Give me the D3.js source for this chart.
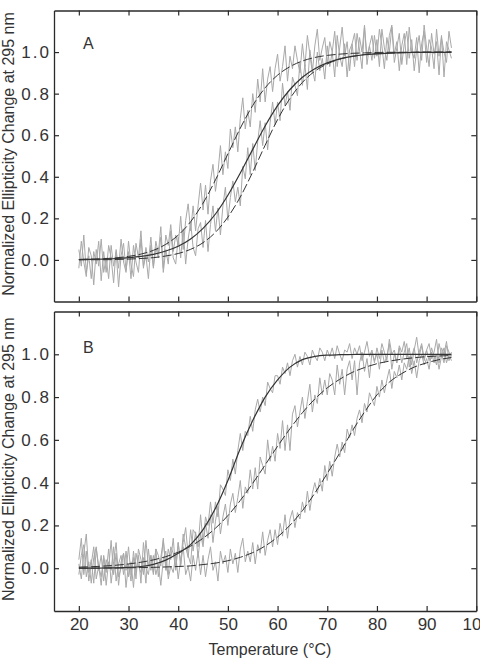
<!DOCTYPE html>
<html><head><meta charset="utf-8">
<script src="https://cdn.jsdelivr.net/npm/d3@7"></script>
<style>
body{margin:0;background:#fff}
text{font-family:"Liberation Sans",Arial,Helvetica,sans-serif;fill:#333}
</style>
</head><body><svg id="c" width="480" height="659"></svg>
<script>
// ---------- data ----------
const panelNames = ["A", "B"];
const xTicks = [20, 30, 40, 50, 60, 70, 80, 90, 100];
const yTicks = [0.0, 0.2, 0.4, 0.6, 0.8, 1.0];
const traceTemps = d3.range(20, 95.001, 0.5);   // measured every 0.5 °C
const fitTemps = d3.range(20, 95.001, 2.5);     // fitted curves sampled every 2.5 °C

const traceA1 = [0.05,-0.03,0.12,-0.06,0.02,-0.09,0.04,-0.02,0.09,-0.10,
0.04,-0.06,0.07,0.01,-0.11,0.05,-0.04,0.10,-0.01,-0.06,
0.09,-0.02,-0.08,0.08,0.01,0.14,-0.04,0.06,-0.01,0.11,
-0.03,0.09,0.03,0.16,-0.04,0.12,0.07,0.17,0.04,0.12,
0.07,0.21,0.05,0.19,0.27,0.14,0.26,0.14,0.26,0.37,
0.24,0.36,0.22,0.38,0.46,0.33,0.42,0.55,0.41,0.52,
0.44,0.63,0.54,0.64,0.52,0.68,0.78,0.63,0.72,0.64,
0.80,0.71,0.87,0.76,0.92,0.76,0.87,0.93,0.81,0.92,
0.99,0.86,0.93,1.03,0.86,0.98,0.92,1.03,0.96,0.90,
1.04,0.93,1.08,0.99,0.90,1.03,1.11,0.96,1.02,1.07,
0.94,1.05,1.00,1.10,0.93,1.02,1.12,0.98,1.05,0.91,
1.04,1.09,0.96,1.07,1.00,1.13,0.94,1.03,1.08,0.97,
1.06,0.93,1.11,1.02,0.96,1.08,1.13,0.99,1.05,0.91,
1.03,1.09,0.94,1.12,1.00,0.97,1.07,0.90,1.04,1.10,
0.95,1.06,1.02,0.92,1.11,0.98,1.08,0.88,1.05,1.01,
0.97];

const traceA2 = [-0.04,0.09,-0.01,-0.08,0.06,0.02,-0.12,0.05,-0.03,0.10,
-0.06,0.01,-0.09,0.07,-0.03,0.04,-0.13,0.02,0.08,-0.05,
0.04,-0.09,0.07,-0.01,-0.06,0.10,-0.03,0.02,-0.09,0.07,
-0.04,0.06,0.01,0.11,-0.06,0.05,-0.02,0.14,0.01,-0.02,
0.11,0.01,0.15,-0.02,0.10,0.18,0.06,0.02,0.15,0.18,
0.06,0.19,0.04,0.17,0.26,0.14,0.25,0.12,0.26,0.35,
0.19,0.30,0.38,0.28,0.35,0.26,0.45,0.39,0.54,0.41,
0.56,0.43,0.57,0.67,0.55,0.66,0.53,0.66,0.76,0.65,
0.76,0.67,0.85,0.74,0.81,0.72,0.88,0.84,0.79,0.95,
0.84,0.94,0.82,1.01,0.92,0.86,1.00,0.91,0.97,0.87,
1.03,0.93,1.00,0.88,1.08,0.98,0.93,1.04,0.88,1.01,
1.04,0.93,1.09,1.01,0.92,1.12,0.98,1.03,0.96,1.08,
0.98,1.11,1.03,0.92,1.07,1.00,1.12,0.95,1.02,1.09,
0.94,1.04,1.10,0.97,1.06,0.91,1.01,1.08,0.96,1.13,
1.02,0.93,1.09,0.99,1.05,0.89,1.07,1.00,0.95,1.10,
1.02];

const traceB1 = [0.04,0.14,-0.03,0.08,-0.06,0.02,0.10,-0.05,0.01,-0.08,
0.06,-0.02,0.09,-0.07,0.03,0.12,-0.04,0.00,0.07,-0.09,
0.02,-0.06,0.08,-0.02,0.06,-0.07,0.12,0.00,-0.03,0.06,
-0.02,0.09,-0.04,0.05,0.13,0.01,-0.03,0.10,0.07,0.00,
0.12,0.01,0.12,0.19,0.06,0.02,0.18,0.16,0.10,0.25,
0.12,0.24,0.20,0.31,0.21,0.31,0.24,0.39,0.37,0.34,
0.46,0.41,0.51,0.44,0.55,0.63,0.55,0.64,0.62,0.71,
0.64,0.74,0.79,0.73,0.80,0.76,0.87,0.84,0.82,0.90,
0.90,0.86,0.94,0.91,0.96,0.90,0.97,1.00,0.94,0.99,
0.95,1.01,0.99,0.95,1.02,0.99,0.97,1.03,1.01,0.97,
1.02,0.99,1.03,0.98,1.04,1.00,0.97,1.02,1.01,1.05,
0.98,1.03,1.00,1.04,0.97,1.01,1.06,0.99,1.02,0.96,
1.03,0.98,1.05,1.01,0.97,1.07,1.00,1.02,0.96,1.04,
1.01,1.06,0.98,1.03,0.95,1.02,1.08,0.99,1.04,0.97,
1.02,1.05,0.98,1.01,1.07,0.96,1.03,1.00,1.06,0.97,
1.01];

const traceB2 = [-0.03,0.06,0.11,-0.04,0.03,-0.07,0.05,0.10,-0.01,0.06,
-0.06,0.04,0.00,0.13,-0.03,0.07,-0.08,0.03,0.07,-0.01,
0.10,-0.03,0.05,-0.05,0.09,0.04,-0.03,0.13,0.01,0.06,
-0.03,0.09,0.06,0.01,0.14,-0.01,0.09,0.04,0.14,-0.01,
0.12,0.02,0.16,0.10,0.05,0.18,0.08,0.17,0.05,0.16,
0.10,0.21,0.14,0.25,0.12,0.22,0.29,0.16,0.24,0.30,
0.20,0.30,0.35,0.26,0.33,0.41,0.28,0.38,0.35,0.46,
0.37,0.47,0.37,0.52,0.48,0.44,0.60,0.50,0.57,0.50,
0.63,0.56,0.69,0.55,0.67,0.55,0.72,0.76,0.66,0.73,
0.80,0.70,0.78,0.86,0.73,0.81,0.77,0.89,0.81,0.88,
0.81,0.91,0.88,0.81,0.95,0.86,0.93,0.81,0.93,0.97,
0.88,0.97,0.81,0.96,1.01,0.92,0.98,0.89,1.01,0.97,
1.00,0.93,1.02,0.96,0.99,1.05,0.93,1.00,0.96,1.03,
0.96,1.01,1.05,0.94,0.99,1.03,0.96,1.01,1.05,0.98,
1.02,0.97,1.03,0.99,0.95,1.05,1.00,0.96,1.04,1.01,
0.99];

const traceB3 = [0.02,-0.05,0.07,0.16,-0.02,0.04,-0.07,0.09,0.01,-0.04,
0.05,-0.08,0.03,-0.01,0.10,-0.06,0.02,0.06,-0.03,0.08,
-0.04,0.03,-0.09,0.07,0.01,-0.02,0.05,-0.07,0.09,-0.01,
0.06,-0.03,0.02,-0.08,0.04,0.08,-0.05,0.01,-0.02,0.06,
-0.05,0.04,0.10,-0.03,0.01,-0.06,0.06,-0.01,0.08,-0.03,
0.06,-0.04,0.04,0.10,-0.01,0.03,-0.06,0.08,0.02,0.06,
-0.02,0.09,0.02,0.07,-0.02,0.09,0.14,0.03,0.08,0.03,
0.12,0.02,0.11,0.07,0.17,0.06,0.13,0.18,0.10,0.18,
0.11,0.21,0.15,0.25,0.14,0.23,0.27,0.19,0.26,0.23,
0.31,0.26,0.36,0.27,0.35,0.40,0.35,0.42,0.36,0.48,
0.41,0.50,0.43,0.52,0.58,0.52,0.59,0.54,0.65,0.61,
0.67,0.62,0.70,0.74,0.68,0.77,0.73,0.82,0.79,0.76,
0.85,0.80,0.88,0.82,0.88,0.93,0.84,0.92,0.89,0.95,
0.88,0.96,0.93,0.99,0.91,0.97,0.89,0.97,1.00,0.95,
0.98,0.93,1.01,0.96,1.00,0.93,0.99,1.03,0.96,1.00,
0.97];

const fitASolid = [0.002,0.003,0.004,0.007,0.011,0.017,0.027,0.043,0.066,0.101,0.152,0.221,0.311,0.418,0.532,0.644,0.742,0.820,0.879,0.920,0.948,0.967,0.979,0.987,0.991,0.995,0.997,0.998,0.999,0.999,1.0];
const fitADashEarly = [0.002,0.004,0.006,0.010,0.017,0.028,0.046,0.075,0.119,0.184,0.273,0.385,0.510,0.634,0.743,0.828,0.889,0.930,0.957,0.974,0.984,0.990,0.994,0.996,0.998,0.999,0.999,1.0,1.0,1.0,1.0];
const fitADashLate = [0.0,0.001,0.001,0.002,0.004,0.007,0.011,0.019,0.031,0.051,0.083,0.133,0.206,0.303,0.423,0.552,0.675,0.777,0.854,0.908,0.943,0.966,0.979,0.988,0.993,0.995,0.997,0.998,0.999,0.999,1.0];

const fitBSolid = [0.0,0.0,0.001,0.002,0.004,0.008,0.018,0.038,0.07,0.11,0.18,0.28,0.41,0.56,0.69,0.80,0.88,0.94,0.975,0.99,0.996,0.998,0.999,1.0,1.0,1.0,1.0,1.0,1.0,1.0,1.0];
const fitBDashMid = [0.005,0.007,0.010,0.014,0.020,0.028,0.039,0.054,0.075,0.103,0.140,0.187,0.246,0.317,0.397,0.483,0.570,0.652,0.727,0.791,0.843,0.883,0.915,0.938,0.956,0.968,0.977,0.984,0.989,0.992,0.994];
const fitBDashLate = [0.0,0.0,0.001,0.001,0.002,0.003,0.004,0.006,0.008,0.011,0.017,0.024,0.035,0.051,0.073,0.104,0.146,0.201,0.269,0.351,0.443,0.538,0.64,0.73,0.81,0.87,0.91,0.94,0.96,0.975,0.985];

// ---------- drawing ----------
const svg = d3.select("#c");
const x = d3.scaleLinear().domain([15, 100]).range([54, 476.3]);

const panels = [
  {name: panelNames[0], top: 10.5, bottom: 301.5, traces: [traceA1, traceA2],
   fits: [{v: fitADashEarly, dash: true}, {v: fitADashLate, dash: true}, {v: fitASolid, dash: false}], xLabels: false},
  {name: panelNames[1], top: 311.5, bottom: 611, traces: [traceB1, traceB2, traceB3],
   fits: [{v: fitBDashMid, dash: true}, {v: fitBDashLate, dash: true}, {v: fitBSolid, dash: false}], xLabels: true}
];

const FRAME = "#2a2a2a";

panels.forEach(p => {
  const y = d3.scaleLinear().domain([-0.2, 1.2]).range([p.bottom, p.top]);
  const g = svg.append("g");

  // noisy measured traces
  const tl = d3.line().x((d, i) => x(traceTemps[i])).y(d => y(d));
  p.traces.forEach(tr => {
    g.append("path").attr("d", tl(tr)).attr("fill", "none")
      .attr("stroke", "#a9a9a9").attr("stroke-width", 1).attr("stroke-linejoin", "round");
  });

  // fitted curves
  const fl = d3.line().x((d, i) => x(fitTemps[i])).y(d => y(d)).curve(d3.curveMonotoneX);
  p.fits.forEach(f => {
    g.append("path").attr("d", fl(f.v)).attr("fill", "none")
      .attr("stroke", "#333").attr("stroke-width", f.dash ? 1 : 1.2)
      .attr("stroke-dasharray", f.dash ? "9,3" : null);
  });

  // axes (frame with inward ticks)
  const styleAxis = sel => {
    sel.selectAll("path.domain").attr("stroke", FRAME).attr("stroke-width", 1.3);
    sel.selectAll(".tick line").attr("stroke", FRAME).attr("stroke-width", 1.2);
    sel.selectAll("text").attr("font-family", "'Liberation Sans', Arial, sans-serif")
      .attr("font-size", 17).attr("fill", "#333");
  };

  const left = g.append("g").attr("transform", `translate(${x.range()[0]},0)`)
    .call(d3.axisLeft(y).tickValues(yTicks).tickSize(-5).tickSizeOuter(0).tickPadding(3)
      .tickFormat(d3.format(".1f")));
  styleAxis(left);
  left.selectAll("text").attr("letter-spacing", "2px");

  const right = g.append("g").attr("transform", `translate(${x.range()[1]},0)`)
    .call(d3.axisRight(y).tickValues(yTicks).tickSize(-5).tickSizeOuter(0).tickFormat(""));
  styleAxis(right);

  const top = g.append("g").attr("transform", `translate(0,${p.top})`)
    .call(d3.axisTop(x).tickValues(xTicks).tickSize(-5).tickSizeOuter(0).tickFormat(""));
  styleAxis(top);

  const bottom = g.append("g").attr("transform", `translate(0,${p.bottom})`)
    .call(d3.axisBottom(x).tickValues(xTicks).tickSize(-5).tickSizeOuter(0).tickPadding(7)
      .tickFormat(p.xLabels ? d3.format("d") : ""));
  styleAxis(bottom);

  // panel letter
  g.append("text").attr("x", 83).attr("y", p.top + (p.name === "A" ? 38.8 : 41.8))
    .attr("font-size", 16).text(p.name);

  // y title
  g.append("text").attr("transform", `translate(13.5,${(p.top + p.bottom) / 2 - 2}) rotate(-90)`)
    .attr("text-anchor", "middle").attr("font-size", 16)
    .text("Normalized Ellipticity Change at 295 nm");
});

svg.append("text").attr("x", 270).attr("y", 654.5).attr("text-anchor", "middle")
  .attr("font-size", 16).text("Temperature (°C)");
</script>
</body></html>
